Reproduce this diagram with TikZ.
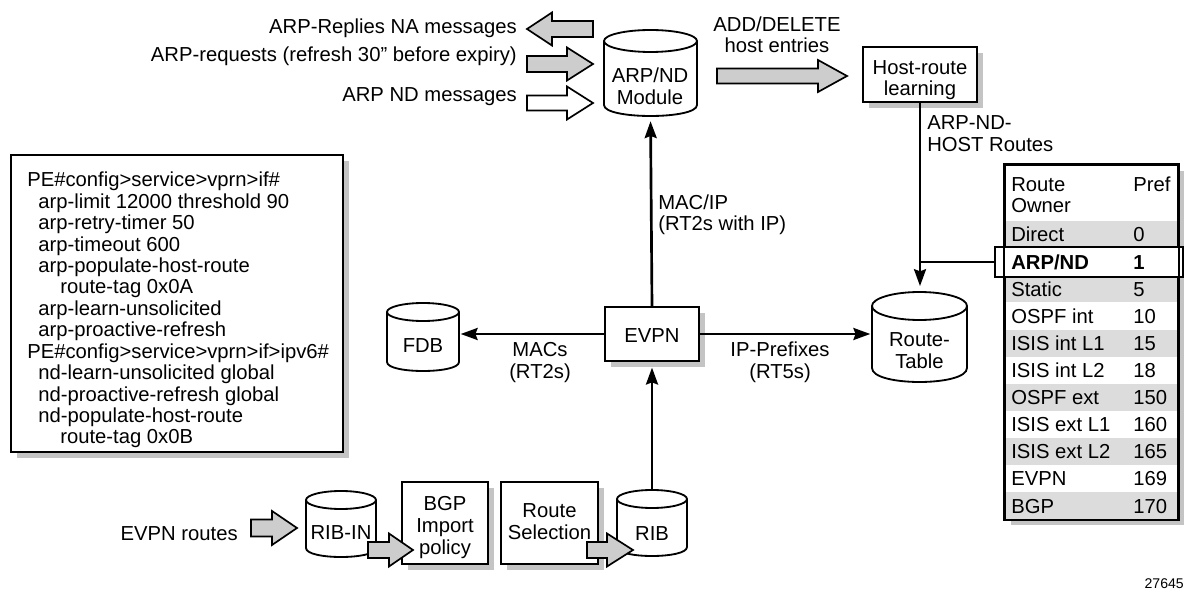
\documentclass[tikz,border=0pt]{standalone}
\usepackage{fontspec}
\setmainfont{Liberation Sans}
\usetikzlibrary{arrows.meta,fit,calc}
\definecolor{shadowc}{HTML}{C4C4C4}
\definecolor{arrowc}{HTML}{CDCDCD}
\definecolor{rowc}{HTML}{DCDCDC}
\newcommand\lbfont{\fontsize{14.4pt}{15.6pt}\selectfont}
\tikzset{
 lbl/.style={inner sep=0, font=\lbfont},
 box/.style={draw, line width=1.4pt, fill=white, inner sep=0},
 conn/.style={line width=1.9pt, -{Stealth[length=12pt,width=8.5pt,inset=1.5pt]}},
 cylline/.style={line width=1.3pt},
 fat/.style={draw, line width=1.2pt, line join=miter},
}
% name, left, top, right, bottom : box with drop shadow
\newcommand\shbox[5]{%
 \fill[shadowc] (#2+6,#3+6) rectangle (#4+6,#5+6);
 \node[box, fit={(#2,#3) (#4,#5)}] (#1) {};}
% name, tail x, head-base x, tip x, y centre, shaft half, head half, fill
\newcommand\fatarrow[8]{%
 \draw[fat, fill=#8] (#2,#5-#6) -- (#3,#5-#6) -- (#3,#5-#7) -- (#4,#5) -- (#3,#5+#7) -- (#3,#5+#6) -- (#2,#5+#6) -- cycle;
 \coordinate (#1) at (#4,#5);}
% name, left, right, top, bottom, ellipse half-height
\newcommand\mycyl[6]{%
 \pgfmathsetmacro\cyx{(#2+#3)/2}%
 \pgfmathsetmacro\cyr{(#3-#2)/2}%
 \pgfmathsetmacro\cya{#4+#6}%
 \pgfmathsetmacro\cyb{#5-#6}%
 \pgfmathsetmacro\cyc{#5-#6+4/3*#6}%
 \draw[cylline, fill=white] (#2,\cya) -- (#2,\cyb) .. controls (#2,\cyc) and (#3,\cyc) .. (#3,\cyb) -- (#3,\cya);
 \draw[cylline] (\cyx,\cya) ellipse [x radius=\cyr, y radius=#6];
 \node[inner sep=0, fit={(#2,#4) (#3,#5)}] (#1) {};}
\begin{document}
\begin{tikzpicture}[x=0.025cm,y=-0.025cm]
\useasboundingbox (0,0) rectangle (1184,590);

% ---------- top left inputs ----------
\node[lbl, anchor=base east] (t1) at (517,34) {ARP-Replies NA messages};
\node[lbl, anchor=base east] (t2) at (517,62) {ARP-requests (refresh 30” before expiry)};
\node[lbl, anchor=base east] (t3) at (517,102) {ARP ND messages};

% ---------- ARP/ND module ----------
\mycyl{arp}{604}{697}{30}{116}{11}
\node[lbl, anchor=base] (arpt1) at (650,83) {ARP/ND};
\node[lbl, anchor=base] (arpt2) at (650,105) {Module};

\fatarrow{fa1}{593}{552}{527}{29}{8}{16.5}{arrowc}
\fatarrow{fa2}{527}{567}{593}{64}{8}{16.5}{arrowc}
\fatarrow{fa3}{527}{567}{593}{103}{7.5}{16.5}{white}

% ---------- add/delete ----------
\node[lbl, anchor=base] (ad1) at (777,32) {ADD/DELETE};
\node[lbl, anchor=base] (ad2) at (777,53) {host entries};
\fatarrow{fa4}{717}{818}{847}{76}{7.5}{16}{arrowc}

% ---------- host route learning ----------
\shbox{host}{863}{47}{977}{102}
\node[lbl, anchor=base] (hostt1) at (920,75) {Host-route};
\node[lbl, anchor=base] (hostt2) at (920,96) {learning};
\node[lbl, anchor=base west] (arh1) at (927,130) {ARP-ND-};
\node[lbl, anchor=base west] (arh2) at (927,152) {HOST Routes};

% ---------- preference table ----------
\shbox{tbl}{1005}{165}{1178}{519}
\foreach \i in {0,2,...,10}{
  \fill[rowc] (1006,242+27.1*\i-20.85) rectangle (1177,242+27.1*\i+6.25);
}
\node[draw, line width=1.4pt, fill=white, inner sep=0, fit={(995,247) (1183,277)}] (arpbox) {};
\draw[line width=1.4pt] (tbl.north west) rectangle (tbl.south east);
\node[lbl, anchor=base west] (hd1) at (1011,192) {Route};
\node[lbl, anchor=base west] (hd2) at (1011,213) {Owner};
\node[lbl, anchor=base west] (hd3) at (1133,192) {Pref};
\foreach \i/\a/\b in {0/Direct/0, 2/Static/5, 3/OSPF int/10, 4/ISIS int L1/15,
  5/ISIS int L2/18, 6/OSPF ext/150, 7/ISIS ext L1/160, 8/ISIS ext L2/165,
  9/EVPN/169, 10/BGP/170}{
  \node[lbl, anchor=base west] (ra\i) at (1011,242+27.1*\i) {\a};
  \node[lbl, anchor=base west] (rb\i) at (1133,242+27.1*\i) {\b};
}
\node[lbl, anchor=base west] (ra1) at (1011,269.1) {\textbf{ARP/ND}};
\node[lbl, anchor=base west] (rb1) at (1133,269.1) {\textbf{1}};

% ---------- route table ----------
\mycyl{rt}{872}{967}{292}{382}{14}
\node[lbl, anchor=base] (rtt1) at (919.5,347) {Route-};
\node[lbl, anchor=base] (rtt2) at (919.5,368) {Table};

\draw[conn, shorten >=4pt] (host.south) -- (host.south |- rt.north);
\coordinate (jn) at (host.south |- arpbox.west);
\draw[line width=1.9pt] (jn) -- (arpbox.west);

% ---------- EVPN ----------
\shbox{evpn}{605}{307}{699}{361}
\node[lbl, anchor=base] (evpnt) at (652,343) {EVPN};

\mycyl{fdb}{387}{459}{303}{371}{9}
\node[lbl, anchor=base] (fdbt) at (423,353) {FDB};

\draw[conn, shorten >=1pt] (evpn.west) -- (fdb.east |- evpn.west);
\draw[conn, shorten >=1pt] (evpn.east) -- (rt.west |- evpn.east);
\draw[conn, shorten >=3.5pt] (evpn.north) -- (arp.south);

\node[lbl, anchor=base] (mac1) at (540,357) {MACs};
\node[lbl, anchor=base] (mac2) at (540,378) {(RT2s)};
\node[lbl, anchor=base] (ipp1) at (780,357) {IP-Prefixes};
\node[lbl, anchor=base] (ipp2) at (780,378) {(RT5s)};
\node[lbl, anchor=base west] (mip1) at (658,210) {MAC/IP};
\node[lbl, anchor=base west] (mip2) at (658,231) {(RT2s with IP)};

% ---------- config box ----------
\shbox{cfg}{11}{155}{343}{452}
\foreach \i/\x/\t in {0/27/{PE\#config>service>vprn>if\#},
  1/38/{arp-limit 12000 threshold 90},
  2/38/{arp-retry-timer 50},
  3/38/{arp-timeout 600},
  4/38/{arp-populate-host-route},
  5/60/{route-tag 0x0A},
  6/38/{arp-learn-unsolicited},
  7/38/{arp-proactive-refresh},
  8/27/{PE\#config>service>vprn>if>ipv6\#},
  9/38/{nd-learn-unsolicited global},
  10/38/{nd-proactive-refresh global},
  11/38/{nd-populate-host-route},
  12/60/{route-tag 0x0B}}{
  \node[lbl, anchor=base west] (cfg\i) at (\x,187+21.4*\i) {\t};
}

% ---------- bottom chain ----------
\node[lbl, anchor=base east] (evr) at (238,540) {EVPN routes};
\mycyl{ribin}{306}{376}{491}{557}{9}
\node[lbl, anchor=base] (ribint) at (341,539) {RIB-IN};
\shbox{bgp}{402}{482}{488}{564}
\node[lbl, anchor=base] (bgpt1) at (445,510) {BGP};
\node[lbl, anchor=base] (bgpt2) at (445,532) {Import};
\node[lbl, anchor=base] (bgpt3) at (445,554) {policy};
\shbox{rs}{501}{482}{598}{564}
\node[lbl, anchor=base] (rst1) at (549.5,517) {Route};
\node[lbl, anchor=base] (rst2) at (549.5,539) {Selection};
\mycyl{rib}{617}{687}{490}{556}{9}
\node[lbl, anchor=base] (ribt) at (652,540) {RIB};
\draw[conn, shorten >=4pt] (rib.north) -- (evpn.south);

\fatarrow{fa5}{251}{272}{297}{528}{8.5}{17}{arrowc}
\fatarrow{fa6}{368}{389}{413}{550}{8}{16.5}{arrowc}
\fatarrow{fa7}{587}{607}{633}{550}{8}{16.5}{arrowc}

\node[inner sep=0, anchor=base east, font=\fontsize{10pt}{12pt}\selectfont] (fignum) at (1184,588) {27645};
\end{tikzpicture}
\end{document}
